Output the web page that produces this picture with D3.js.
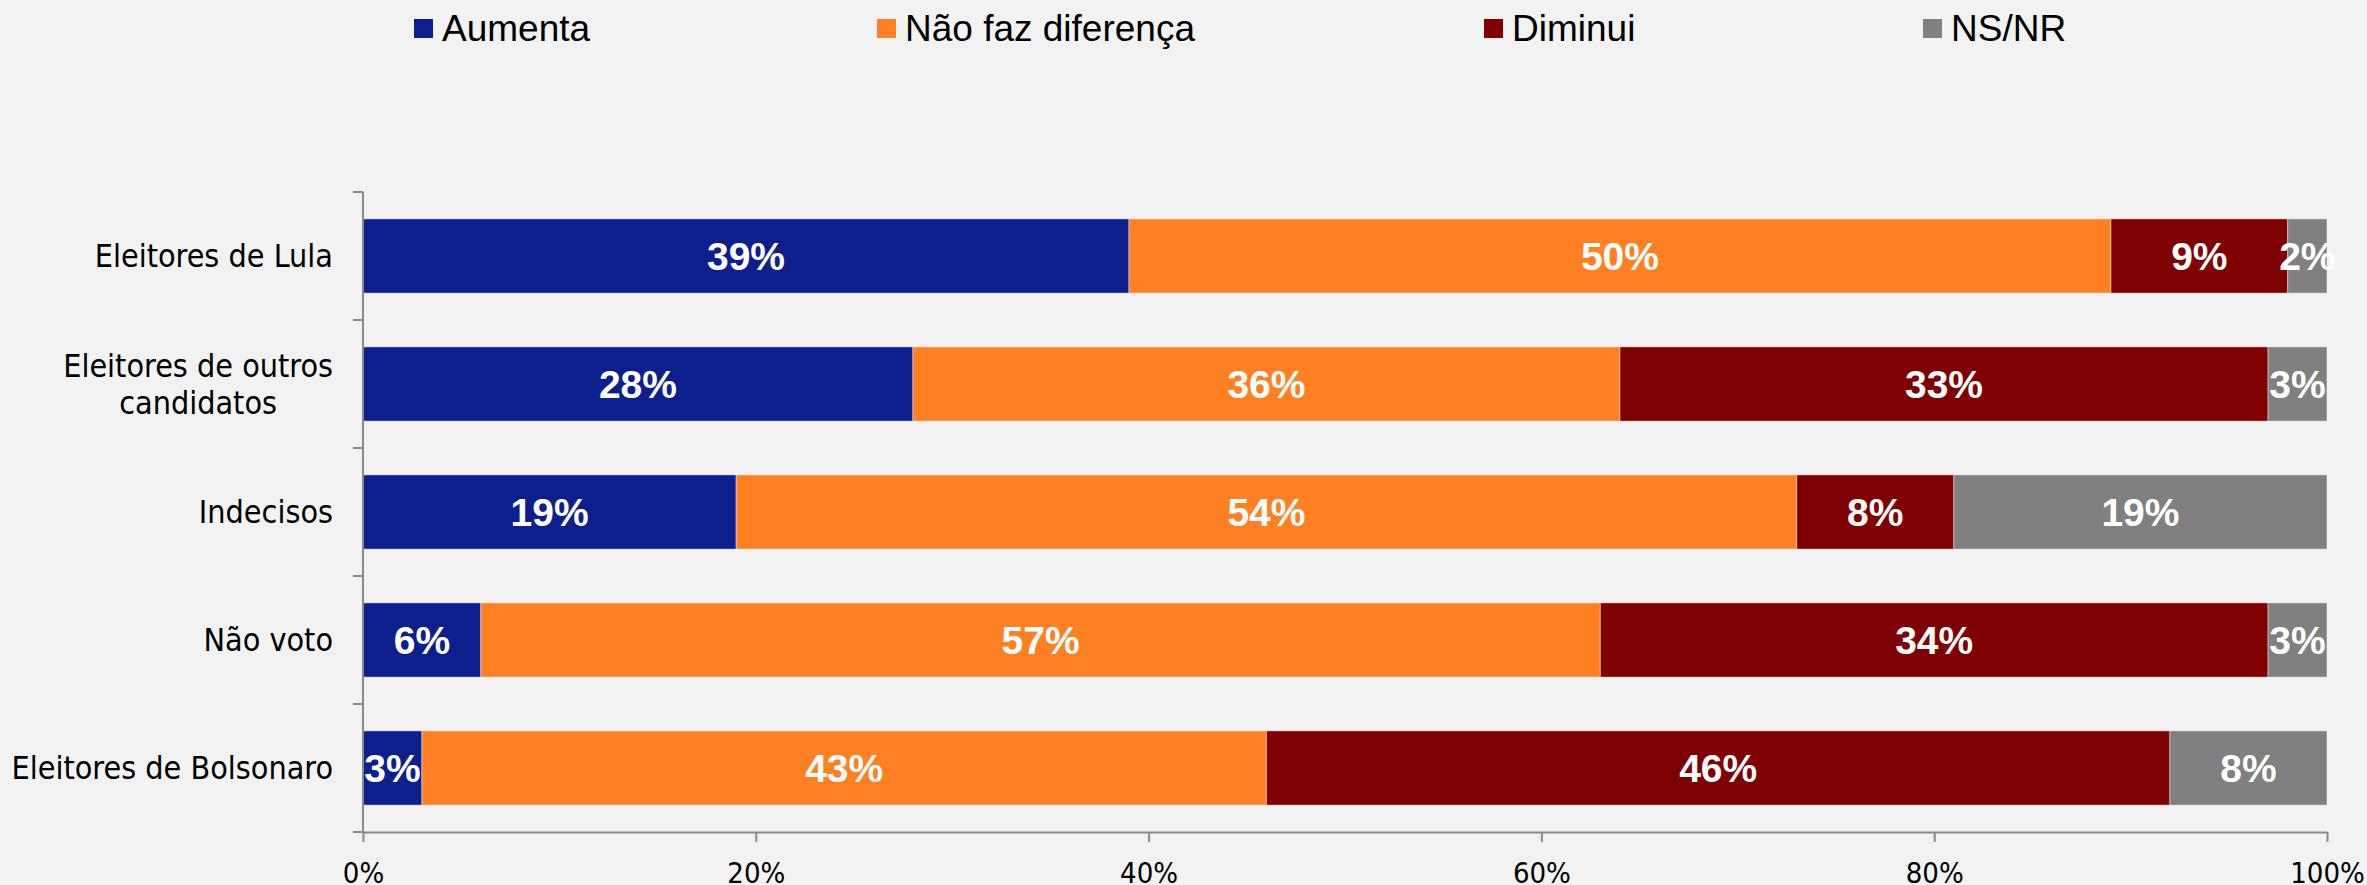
<!DOCTYPE html>
<html>
<head>
<meta charset="utf-8">
<script src="https://cdn.jsdelivr.net/npm/d3@7"></script>
<style>
  html, body { margin: 0; padding: 0; background: #f2f2f2; }
  svg { display: block; }
</style>
</head>
<body>
<svg id="chart" width="2367" height="885"></svg>
<script>
// data
var categories = ["Eleitores de Lula", "Eleitores de outros\ncandidatos", "Indecisos", "Não voto", "Eleitores de Bolsonaro"];
var seriesNames = ["Aumenta", "Não faz diferença", "Diminui", "NS/NR"];
var aumenta   = [39, 28, 19, 6, 3];
var naoFaz    = [50, 36, 54, 57, 43];
var diminui   = [9, 33, 8, 34, 46];
var nsnr      = [2, 3, 19, 3, 8];
var xTicks    = [0, 20, 40, 60, 80, 100];

// styles / layout
var colors = ["#0c1f8d", "#ff7f23", "#7f0000", "#808080"];
var legendX = [414, 877, 1484, 1923];
var pxL = 363, pxR = 2327, pxT = 192, pxB = 832;

var svg = d3.select("#chart");
svg.append("rect").attr("width", 2367).attr("height", 885).attr("fill", "#f2f2f2");

var rows = categories.map(function (c, i) {
  return { cat: c, Aumenta: aumenta[i], "Não faz diferença": naoFaz[i], "Diminui": diminui[i], "NS/NR": nsnr[i] };
});
var stacked = d3.stack().keys(seriesNames)(rows);

var scX = d3.scaleLinear().domain([0, 100]).range([pxL, pxR]);
var scY = d3.scaleBand().domain(categories).range([pxT, pxB])
  .paddingInner(0.42).paddingOuter(0.21);

// bars
var layers = svg.append("g").selectAll("g")
  .data(stacked).enter().append("g")
  .attr("fill", (d, i) => colors[i]);

layers.selectAll("rect")
  .data(d => d).enter().append("rect")
  .attr("x", d => scX(d[0]))
  .attr("y", d => scY(d.data.cat))
  .attr("width", d => scX(d[1]) - scX(d[0]))
  .attr("height", scY.bandwidth())
  .attr("stroke", "rgba(255,255,255,0.45)")
  .attr("stroke-width", 1);

// bar labels
layers.selectAll("text")
  .data(d => d).enter().append("text")
  .attr("x", d => scX((d[0] + d[1]) / 2))
  .attr("y", d => scY(d.data.cat) + scY.bandwidth() / 2)
  .attr("dy", "0.36em")
  .attr("text-anchor", "middle")
  .attr("fill", "#fff")
  .attr("font-family", "Liberation Sans, Arial, sans-serif")
  .attr("font-weight", "bold")
  .attr("font-size", 39)
  .text(d => (d[1] - d[0]) + "%");

// axes
var axisColor = "#8a8a8a";
var gx = svg.append("g").attr("transform", "translate(0," + pxB + ")")
  .call(d3.axisBottom(scX).tickValues(xTicks).tickSize(10).tickSizeOuter(0)
    .tickFormat(d => d + "%"));
gx.select(".domain").attr("stroke", axisColor).attr("stroke-width", 2);
gx.selectAll(".tick line").attr("stroke", axisColor).attr("stroke-width", 2);
gx.selectAll(".tick text")
  .attr("font-family", "DejaVu Sans Condensed, DejaVu Sans, sans-serif")
  .attr("font-size", 29).attr("fill", "#000")
  .attr("y", 0).attr("dy", null)
  .attr("transform", "translate(0,51)");

// y axis line and band boundary ticks
var gy = svg.append("g");
gy.append("line").attr("x1", pxL).attr("x2", pxL).attr("y1", pxT).attr("y2", pxB)
  .attr("stroke", axisColor).attr("stroke-width", 2);
gy.selectAll("line.tk")
  .data(d3.range(categories.length + 1)).enter().append("line")
  .attr("class", "tk")
  .attr("x1", pxL - 10).attr("x2", pxL)
  .attr("y1", i => pxT + i * scY.step()).attr("y2", i => pxT + i * scY.step())
  .attr("stroke", axisColor).attr("stroke-width", 2);

// y labels
var labelRight = 333;
categories.forEach(function (c) {
  var lines = c.split("\n");
  var t = svg.append("text")
    .attr("font-family", "DejaVu Sans Condensed, DejaVu Sans, sans-serif")
    .attr("font-size", 32).attr("fill", "#000");
  var cy = scY(c) + scY.bandwidth() / 2;
  lines.forEach(function (ln, i) {
    t.append("tspan").attr("x", labelRight)
      .attr("y", cy).attr("dy", (0.35 + (i - (lines.length - 1) / 2) * 1.15) + "em")
      .text(ln);
  });
  if (lines.length > 1) {
    var w = d3.max(t.selectAll("tspan").nodes(), n => n.getComputedTextLength());
    t.attr("text-anchor", "middle").selectAll("tspan").attr("x", labelRight - w / 2);
  } else {
    t.attr("text-anchor", "end");
  }
});

// legend
var lg = svg.append("g").selectAll("g")
  .data(seriesNames).enter().append("g")
  .attr("transform", (d, i) => "translate(" + legendX[i] + ",0)");
lg.append("rect").attr("x", 0).attr("y", 19).attr("width", 19).attr("height", 19)
  .attr("fill", (d, i) => colors[i]);
lg.append("text").attr("x", 28).attr("y", 41)
  .attr("font-family", "Liberation Sans, Arial, sans-serif")
  .attr("font-size", 37).attr("fill", "#000")
  .text(d => d);
</script>
</body>
</html>
